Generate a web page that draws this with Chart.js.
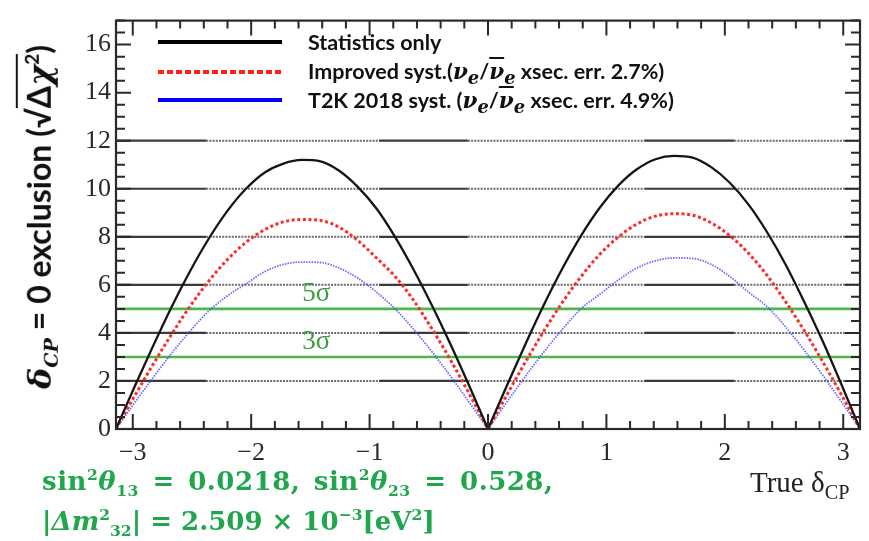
<!DOCTYPE html>
<html><head><meta charset="utf-8">
<script src="https://cdn.jsdelivr.net/npm/chart.js@4.4.0/dist/chart.umd.min.js"></script>
<style>
html,body{margin:0;padding:0;background:#fff;}
#wrap{position:relative;width:869px;height:541px;overflow:hidden;background:#fff;}
#c{position:absolute;left:0;top:0;}
.ov{position:absolute;white-space:nowrap;line-height:1;}
.sample{position:absolute;left:158px;width:124px;height:4px;}
.legtxt{position:absolute;left:308px;font:bold 21.5px Lato, sans-serif;color:#111;white-space:nowrap;line-height:24px;}
.mi{font-family:"DejaVu Serif",serif;font-style:italic;font-weight:bold;}
.bar{text-decoration:overline;}
#ytitle{left:41px;top:217px;transform:translate(-50%,-50%) rotate(-90deg);font:bold 32px Lato, sans-serif;color:#111;}
#ytitle sub{font-size:60%;}
.sq{border-top:2px solid #111;padding-top:1px;}
.green{color:#20a64c;font-family:"DejaVu Serif",serif;font-weight:bold;font-size:26px;letter-spacing:0.5px;word-spacing:4px;}
.green i{font-style:italic;}
#xtitle{left:750px;top:468px;font-family:"Liberation Serif",serif;font-size:29px;color:#222;}
</style></head><body>
<div id="wrap">
<canvas id="c" width="869" height="541"></canvas>
<div class="sample" style="top:40px;background:#000;"></div>
<div class="legtxt" style="top:30px;">Statistics only</div>
<div class="sample" style="top:70px;background:repeating-linear-gradient(90deg,#ff2020 0 6px,transparent 6px 9px);"></div>
<div class="legtxt" style="top:59px;">Improved syst.(<span class="mi">ν<sub>e</sub></span>/<span class="mi"><span class="bar">ν</span><sub>e</sub></span> xsec. err. 2.7%)</div>
<div class="sample" style="top:98px;background:#0000ff;"></div>
<div class="legtxt" style="top:88px;">T2K 2018 syst. (<span class="mi">ν<sub>e</sub></span>/<span class="mi"><span class="bar">ν</span><sub>e</sub></span> xsec. err. 4.9%)</div>
<div id="ytitle" class="ov"><span class="mi">δ<sub>CP</sub></span> = 0 exclusion (√<span class="sq">Δ<span class="mi">χ</span><sup style="font-size:60%">2</sup></span>)</div>
<div class="ov green" style="left:42px;top:467px;">sin<sup style="font-size:60%">2</sup><i>θ</i><sub style="font-size:60%">13</sub> = 0.0218, sin<sup style="font-size:60%">2</sup><i>θ</i><sub style="font-size:60%">23</sub> = 0.528,</div>
<div class="ov green" style="left:42px;top:507px;letter-spacing:0;word-spacing:0;">|<i>Δm</i><sup style="font-size:60%">2</sup><sub style="font-size:60%">32</sub>| = 2.509 × 10<sup style="font-size:60%">−3</sup>[eV<sup style="font-size:60%">2</sup>]</div>
<div id="xtitle" class="ov">True δ<sub style="font-size:70%">CP</sub></div>
</div>
<script>
// ---- data ----
const xValues = [-3.142,-2.985,-2.827,-2.670,-2.513,-2.356,-2.199,-2.042,-1.885,-1.728,-1.571,-1.414,-1.257,-1.100,-0.942,-0.785,-0.628,-0.471,-0.314,-0.157,0,
  0.157,0.314,0.471,0.628,0.785,0.942,1.100,1.257,1.414,1.571,1.728,1.885,2.042,2.199,2.356,2.513,2.670,2.827,2.985,3.142];
const statsOnly = [0,1.76,3.47,5.10,6.60,7.94,9.09,10.01,10.68,11.05,11.20,11.14,10.75,10.08,9.18,8.00,6.63,5.12,3.50,1.78,0,
  1.78,3.51,5.16,6.68,8.04,9.20,10.13,10.81,11.23,11.37,11.30,10.90,10.25,9.35,8.20,6.85,5.30,3.65,1.85,0];
const improvedSyst = [0,1.37,2.70,3.96,5.13,6.17,7.06,7.78,8.30,8.62,8.72,8.68,8.40,7.85,7.12,6.35,5.35,4.15,2.85,1.45,0,
  1.40,2.77,4.07,5.27,6.34,7.26,7.99,8.53,8.86,8.96,8.90,8.58,8.05,7.32,6.40,5.30,4.10,2.80,1.42,0];
const t2kSyst = [0,1.09,2.15,3.16,4.09,4.92,5.55,6.05,6.55,6.85,6.95,6.93,6.70,6.28,5.70,5.00,4.15,3.20,2.18,1.10,0,
  1.10,2.18,3.20,4.15,5.00,5.60,6.20,6.70,7.00,7.12,7.10,6.85,6.35,5.70,5.10,4.25,3.28,2.24,1.13,0];
const seriesNames = ['Statistics only','Improved syst. (νe/ν̄e xsec. err. 2.7%)','T2K 2018 syst. (νe/ν̄e xsec. err. 4.9%)'];
const xRange = [-3.1416, 3.1416];
const yRange = [0, 17];
const xTickLabels = [-3,-2,-1,0,1,2,3];
const yTickLabels = [0,2,4,6,8,10,12,14,16];
const gridLevels = [2,4,6,8,10,12];
const sigmaLevels = [3,5];
const sigmaLabels = ['3σ','5σ'];

// ---- style constants ----
const dottedRanges = [[-3.1416,-2.38],[-0.92,-0.17],[1.32,2.08]];
const sigmaLabelX = -1.45, sigmaLabelDy = 0.62;

// split each series into its two lobes (x<=0 and x>=0) so the cusp at 0 stays sharp
const lobes = ys => {
  const all = ys.map((y,i)=>({x:xValues[i], y}));
  return [all.filter(p=>p.x<=0), all.filter(p=>p.x>=0)];
};
const styles = [
  {borderColor:'#151515', borderWidth:2.3, borderDash:[], order:1},
  {borderColor:'#ff2a2a', borderWidth:3, borderDash:[3,2.6], order:2},
  {borderColor:'rgba(70,70,255,0.8)', borderWidth:1.8, borderDash:[1.5,1.2], order:3}
];
const curveSets = [];
[statsOnly, improvedSyst, t2kSyst].forEach((ys,si)=>{
  lobes(ys).forEach(d=>{
    curveSets.push(Object.assign({label:seriesNames[si], data:d, pointRadius:0, cubicInterpolationMode:'monotone'}, styles[si]));
  });
});

const sigmaSets = sigmaLevels.map(v=>({
  label: v+'σ', data:[{x:xRange[0],y:v},{x:xRange[1],y:v}],
  borderColor:'#4cb84c', borderWidth:2.6, pointRadius:0, order:10, tension:0
}));

const framePlugin = {
  id:'frame',
  beforeDatasetsDraw(chart){
    const {ctx, chartArea:a, scales:{x,y}} = chart;
    ctx.save();
    gridLevels.forEach(v=>{
      const py = y.getPixelForValue(v);
      let cuts = [xRange[0]];
      dottedRanges.forEach(r=>{cuts.push(r[0],r[1]);});
      cuts.push(xRange[1]);
      for(let i=0;i<cuts.length-1;i++){
        const dotted = (i%2===0);
        const x0 = x.getPixelForValue(cuts[i]), x1 = x.getPixelForValue(cuts[i+1]);
        ctx.beginPath();
        if(dotted){ctx.setLineDash([2,1.2]);ctx.strokeStyle='#6a6a6a';ctx.lineWidth=2;}
        else{ctx.setLineDash([]);ctx.strokeStyle='#3a3a3a';ctx.lineWidth=2.2;}
        ctx.moveTo(x0,py);ctx.lineTo(x1,py);ctx.stroke();
      }
    });
    ctx.restore();
  },
  afterDatasetsDraw(chart){
    const {ctx, chartArea:a, scales:{x,y}} = chart;
    ctx.save();
    ctx.setLineDash([]);
    ctx.strokeStyle='#2a2a2a';
    ctx.lineWidth=2;
    for(let k=-30;k<=30;k+=2){
      const v=k/10, px=x.getPixelForValue(v);
      const major = (k%10===0);
      const L = major?15:8;
      ctx.beginPath();
      ctx.moveTo(px,a.bottom);ctx.lineTo(px,a.bottom-L);
      ctx.moveTo(px,a.top);ctx.lineTo(px,a.top+L);
      ctx.stroke();
    }
    for(let k=0;k<=34;k++){
      const v=k/2, py=y.getPixelForValue(v);
      const major = (k%4===0);
      const L = major?15:9;
      ctx.beginPath();
      ctx.moveTo(a.left,py);ctx.lineTo(a.left+L,py);
      ctx.moveTo(a.right,py);ctx.lineTo(a.right-L,py);
      ctx.stroke();
    }
    ctx.lineWidth=2.2;
    ctx.strokeRect(a.left,a.top,a.right-a.left,a.bottom-a.top);
    ctx.fillStyle='#3f9b3f';
    ctx.font='27px "Liberation Serif", serif';
    ctx.textAlign='center';ctx.textBaseline='middle';
    sigmaLevels.forEach((v,i)=>{
      ctx.fillText(sigmaLabels[i], x.getPixelForValue(sigmaLabelX), y.getPixelForValue(v+sigmaLabelDy));
    });
    ctx.restore();
  }
};

new Chart(document.getElementById('c'), {
  type:'line',
  data:{datasets:[...curveSets, ...sigmaSets]},
  options:{
    responsive:false, animation:false, devicePixelRatio:1,
    layout:{padding:{left:0,right:9,top:12,bottom:0}},
    plugins:{legend:{display:false}, tooltip:{enabled:false}},
    scales:{
      x:{type:'linear', min:xRange[0], max:xRange[1],
        grid:{display:false, drawTicks:false}, border:{display:false},
        afterBuildTicks(s){ s.ticks = xTickLabels.map(v=>({value:v})); },
        afterFit(s){ s.height = 112; },
        ticks:{padding:9, color:'#2a2a2a', font:{family:'Liberation Serif', size:26}, maxRotation:0, autoSkip:false,
          callback:v=> (v<0?'−'+Math.abs(v):String(v))}
      },
      y:{type:'linear', min:yRange[0], max:yRange[1],
        grid:{display:false, drawTicks:false}, border:{display:false},
        afterBuildTicks(s){ s.ticks = yTickLabels.map(v=>({value:v})); },
        afterFit(s){ s.width = 116; },
        ticks:{padding:5, color:'#2a2a2a', font:{family:'Liberation Serif', size:26}, autoSkip:false}
      }
    }
  },
  plugins:[framePlugin]
});
</script>
</body></html>
